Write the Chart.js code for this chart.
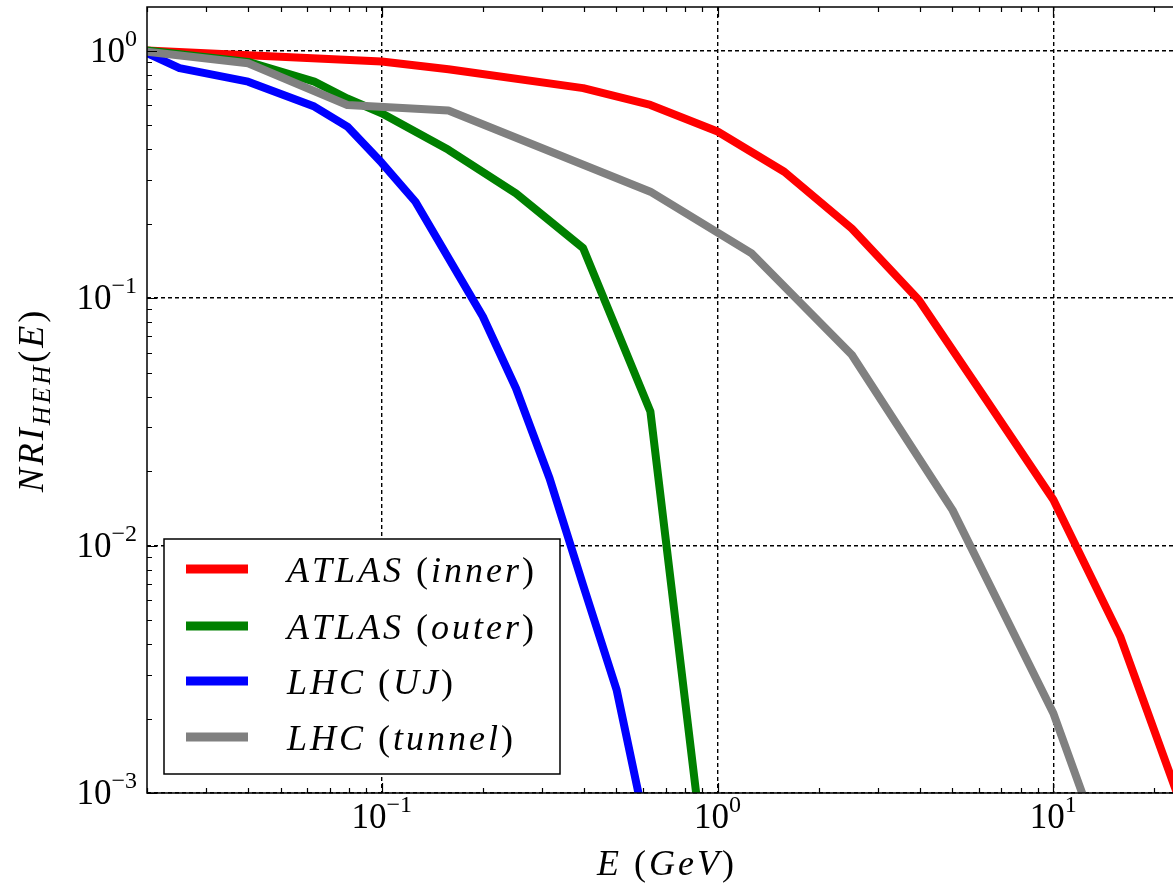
<!DOCTYPE html>
<html>
<head>
<meta charset="utf-8">
<script src="https://cdn.jsdelivr.net/npm/chart.js@4.4.1/dist/chart.umd.min.js"></script>
<style>
  html, body { margin: 0; padding: 0; background: #fff; overflow: hidden; }
  #wrap { width: 1200px; height: 886px; }
  canvas { display: block; }
</style>
</head>
<body>
<div id="wrap"><canvas id="nri" width="1200" height="886"></canvas></div>
<script>
// Normalised HEH response NRI_HEH(E) for four radiation environments.
const seriesNames  = ['ATLAS (inner)', 'ATLAS (outer)', 'LHC (UJ)', 'LHC (tunnel)'];
const seriesColors = ['#ff0000', '#008000', '#0000ff', '#808080'];

// energies in GeV, values are NRI_HEH(E)
const energyAtlasInner = [0.02, 0.1, 0.158, 0.398, 0.631, 1, 1.58, 2.51, 3.98, 6.31, 10, 15.8, 25.1];
const nriAtlasInner    = [1.0, 0.903, 0.841, 0.705, 0.603, 0.471, 0.324, 0.191, 0.098, 0.0388, 0.0153, 0.0043, 0.00076];

const energyAtlasOuter = [0.02, 0.04, 0.063, 0.079, 0.1, 0.158, 0.251, 0.398, 0.631, 1];
const nriAtlasOuter    = [1.0, 0.9, 0.749, 0.64, 0.558, 0.397, 0.265, 0.159, 0.0348, 0.00019];

const energyLhcUJ = [0.02, 0.025, 0.04, 0.063, 0.079, 0.1, 0.126, 0.2, 0.251, 0.316, 0.398, 0.501, 0.631];
const nriLhcUJ    = [0.976, 0.849, 0.749, 0.594, 0.493, 0.352, 0.245, 0.0842, 0.0432, 0.0187, 0.0069, 0.0026, 0.00059];

const energyLhcTunnel = [0.02, 0.04, 0.079, 0.158, 0.631, 1.26, 2.51, 5.01, 10, 12.6];
const nriLhcTunnel    = [0.99, 0.889, 0.603, 0.573, 0.269, 0.152, 0.059, 0.0139, 0.0021, 0.00088];

// axis ranges and labelled decades
const xLimits = [0.02, 25];
const yLimits = [0.001, 1.5];
const xTickExponents = [-1, 0, 1];
const yTickExponents = [0, -1, -2, -3];
const xTitle = 'E (GeV)';
const yTitleMain = 'NRI';
const yTitleSub = 'HEH';
const yTitleArg = '(E)';

const SERIF = '"Liberation Serif"';

function isDecade(v) {
  if (!(v > 0)) return false;
  const l = Math.log10(v);
  return Math.abs(l - Math.round(l)) < 1e-6;
}

function toPoints(xs, ys) {
  return xs.map((x, i) => ({ x: x, y: ys[i] }));
}

// Split a label into italic letters and upright parentheses, math style.
function mathRuns(str, size, sp) {
  const runs = [];
  for (const ch of str) {
    const upright = ch === '(' || ch === ')';
    const font = (upright ? '' : 'italic ') + size + 'px ' + SERIF;
    const last = runs[runs.length - 1];
    if (last && last.font === font) last.text += ch;
    else runs.push({ text: ch, font: font, sp: sp });
  }
  return runs;
}

// width of a run, with optional extra spacing after each glyph
function runWidth(ctx, r) {
  ctx.font = r.font;
  const sp = r.sp || 0;
  if (!sp) return ctx.measureText(r.text).width;
  let w = 0;
  for (const ch of r.text) w += ctx.measureText(ch).width + sp;
  return w;
}

// Draw a row of runs along the x axis of the current transform.
function drawRuns(ctx, runs, x, y, align) {
  ctx.save();
  ctx.textAlign = 'left';
  ctx.textBaseline = 'alphabetic';
  ctx.fillStyle = '#000';
  const widths = runs.map(r => runWidth(ctx, r));
  const total = widths.reduce((s, w) => s + w, 0);
  let cx = align === 'center' ? x - total / 2 : align === 'right' ? x - total : x;
  runs.forEach((r, i) => {
    ctx.font = r.font;
    const yy = y + (r.dy || 0);
    if (r.sp) {
      let gx = cx;
      for (const ch of r.text) {
        ctx.fillText(ch, gx, yy);
        gx += ctx.measureText(ch).width + r.sp;
      }
    } else {
      ctx.fillText(r.text, cx, yy);
    }
    cx += widths[i];
  });
  ctx.restore();
}

function powerRuns(e) {
  const exp = e < 0 ? '\u2212' + Math.abs(e) : String(e);
  return [
    { text: '10', font: '35px ' + SERIF },
    { text: exp, font: '24px ' + SERIF, dy: -16 }
  ];
}

const decorations = {
  id: 'decorations',
  afterDatasetsDraw(chart) {
    const ctx = chart.ctx;
    const a = chart.chartArea;
    const xs = chart.scales.x;
    const ys = chart.scales.y;

    ctx.save();
    // frame
    ctx.strokeStyle = '#000';
    ctx.lineWidth = 1.5;
    ctx.strokeRect(a.left, a.top, a.right - a.left, a.bottom - a.top);

    // inward major / minor ticks on all four sides
    ctx.lineWidth = 1.2;
    ctx.beginPath();
    for (let d = -2; d <= 1; d++) {
      for (let m = 1; m <= 9; m++) {
        const v = m * Math.pow(10, d);
        if (v < xLimits[0] * 0.999 || v > xLimits[1]) continue;
        const px = Math.round(xs.getPixelForValue(v)) + 0.5;
        const len = m === 1 ? 10 : 5;
        ctx.moveTo(px, a.bottom); ctx.lineTo(px, a.bottom - len);
        ctx.moveTo(px, a.top); ctx.lineTo(px, a.top + len);
      }
    }
    for (let d = -3; d <= 0; d++) {
      for (let m = 1; m <= 9; m++) {
        const v = m * Math.pow(10, d);
        if (v < yLimits[0] * 0.999 || v > yLimits[1]) continue;
        const py = Math.round(ys.getPixelForValue(v)) + 0.5;
        const len = m === 1 ? 10 : 5;
        ctx.moveTo(a.left, py); ctx.lineTo(a.left + len, py);
        ctx.moveTo(a.right, py); ctx.lineTo(a.right - len, py);
      }
    }
    ctx.stroke();
    ctx.restore();

    // tick labels
    xTickExponents.forEach(e => {
      const px = xs.getPixelForValue(Math.pow(10, e));
      drawRuns(ctx, powerRuns(e), px, a.bottom + 35, 'center');
    });
    yTickExponents.forEach(e => {
      const py = ys.getPixelForValue(Math.pow(10, e));
      drawRuns(ctx, powerRuns(e), a.left - 10, py + 11, 'right');
    });

    // axis titles
    drawRuns(ctx, mathRuns(xTitle, 36, 3), (a.left + a.right) / 2, 875, 'center');
    ctx.save();
    ctx.translate(43, (a.top + a.bottom) / 2);
    ctx.rotate(-Math.PI / 2);
    const yRuns = [].concat(
      mathRuns(yTitleMain, 36, 3),
      [{ text: yTitleSub, font: 'italic 26px ' + SERIF, dy: 7, sp: 3 }],
      mathRuns(yTitleArg, 36, 3)
    );
    drawRuns(ctx, yRuns, 0, 0, 'center');
    ctx.restore();

    // legend
    const box = { x: 164, y: 539, w: 396, h: 235 };
    ctx.save();
    ctx.fillStyle = '#fff';
    ctx.fillRect(box.x, box.y, box.w, box.h);
    ctx.strokeStyle = '#000';
    ctx.lineWidth = 1.5;
    ctx.strokeRect(box.x, box.y, box.w, box.h);
    ctx.restore();
    const rowY = [569, 626, 681, 737];
    seriesNames.forEach((name, i) => {
      ctx.save();
      ctx.strokeStyle = seriesColors[i];
      ctx.lineWidth = 9;
      ctx.lineCap = 'butt';
      ctx.beginPath();
      ctx.moveTo(186, rowY[i]);
      ctx.lineTo(248, rowY[i]);
      ctx.stroke();
      ctx.restore();
      drawRuns(ctx, mathRuns(name, 36, 3), 287, rowY[i] + 13, 'left');
    });
  }
};

const seriesData = [
  toPoints(energyAtlasInner, nriAtlasInner),
  toPoints(energyAtlasOuter, nriAtlasOuter),
  toPoints(energyLhcUJ, nriLhcUJ),
  toPoints(energyLhcTunnel, nriLhcTunnel)
];

new Chart(document.getElementById('nri'), {
  type: 'line',
  data: {
    datasets: seriesData.map((pts, i) => ({
      label: seriesNames[i],
      data: pts,
      borderColor: seriesColors[i],
      backgroundColor: seriesColors[i],
      borderWidth: 8,
      borderJoinStyle: 'round',
      borderCapStyle: 'butt',
      pointRadius: 0,
      tension: 0,
      fill: false,
      clip: 0,
      order: seriesNames.length - i
    }))
  },
  options: {
    responsive: false,
    devicePixelRatio: 1,
    animation: false,
    events: [],
    layout: { autoPadding: false, padding: { left: 147, right: 13, top: 7, bottom: 93 } },
    plugins: { legend: { display: false }, tooltip: { enabled: false } },
    scales: {
      x: {
        type: 'logarithmic',
        min: xLimits[0],
        max: xLimits[1],
        ticks: { display: false },
        title: { display: false },
        border: { display: false, dash: [4, 3] },
        grid: {
          drawTicks: false,
          color: c => isDecade(c.tick && c.tick.value) ? '#000' : 'rgba(0,0,0,0)',
          lineWidth: c => isDecade(c.tick && c.tick.value) ? 1.4 : 0
        },
        afterFit: s => { s.height = 0; }
      },
      y: {
        type: 'logarithmic',
        min: yLimits[0],
        max: yLimits[1],
        ticks: { display: false },
        title: { display: false },
        border: { display: false, dash: [4, 3] },
        grid: {
          drawTicks: false,
          color: c => isDecade(c.tick && c.tick.value) ? '#000' : 'rgba(0,0,0,0)',
          lineWidth: c => isDecade(c.tick && c.tick.value) ? 1.4 : 0
        },
        afterFit: s => { s.width = 0; }
      }
    }
  },
  plugins: [decorations]
});
</script>
</body>
</html>
